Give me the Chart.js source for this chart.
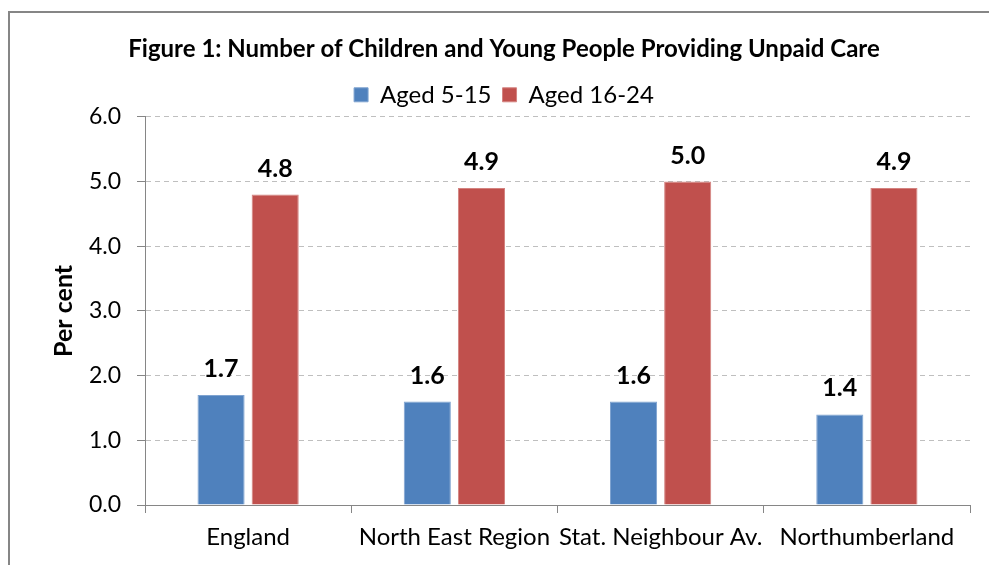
<!DOCTYPE html>
<html>
<head>
<meta charset="utf-8">
<script src="https://cdn.jsdelivr.net/npm/chart.js@4.4.1/dist/chart.umd.min.js"></script>
<style>
  html, body { margin: 0; padding: 0; background: #ffffff; }
  #wrap { width: 989px; height: 565px; position: relative; }
</style>
</head>
<body>
<div id="wrap"><canvas id="c" width="989" height="565"></canvas></div>
<script>
const categories = ['England', 'North East Region', 'Stat. Neighbour Av.', 'Northumberland'];
const aged5to15 = [1.7, 1.6, 1.6, 1.4];
const aged16to24 = [4.8, 4.9, 5.0, 4.9];
const seriesNames = ['Aged 5-15', 'Aged 16-24'];
const titleText = 'Figure 1: Number of Children and Young People Providing Unpaid Care';
const yAxisTitle = 'Per cent';

const FONT = 'Lato, "Open Sans", sans-serif';

const framePlugin = {
  id: 'frame',
  beforeDraw(chart) {
    const ctx = chart.ctx;
    ctx.save();
    ctx.fillStyle = '#ffffff';
    ctx.fillRect(0, 0, chart.width, chart.height);
    ctx.strokeStyle = '#868686';
    ctx.lineWidth = 2;
    ctx.strokeRect(9, 12, chart.width + 20, chart.height + 20);
    ctx.restore();
  }
};

const labelPlugin = {
  id: 'valueLabels',
  afterDatasetsDraw(chart) {
    const ctx = chart.ctx;
    ctx.save();
    ctx.font = 'bold 25px ' + FONT;
    ctx.fillStyle = '#000000';
    ctx.textAlign = 'center';
    ctx.textBaseline = 'middle';
    chart.data.datasets.forEach((ds, i) => {
      const meta = chart.getDatasetMeta(i);
      meta.data.forEach((bar, j) => {
        ctx.fillText(ds.data[j].toFixed(1), bar.x, bar.y - 26);
      });
    });
    ctx.restore();
  }
};

new Chart(document.getElementById('c'), {
  type: 'bar',
  data: {
    labels: categories,
    datasets: [
      { label: seriesNames[0], data: aged5to15, backgroundColor: '#4F81BD', borderColor: '#7FA3D0', borderWidth: 1,
        categoryPercentage: 0.525, barPercentage: 0.87 },
      { label: seriesNames[1], data: aged16to24, backgroundColor: '#C0504D', borderColor: '#D48380', borderWidth: 1,
        categoryPercentage: 0.525, barPercentage: 0.87 }
    ]
  },
  options: {
    responsive: false,
    animation: false,
    devicePixelRatio: 1,
    layout: { padding: { left: 38, right: 19, top: 0, bottom: 0 } },
    plugins: {
      title: {
        display: true,
        text: titleText,
        color: '#000000',
        font: { family: FONT, size: 24, weight: 'bold' },
        padding: { top: 35, bottom: 8 }
      },
      legend: {
        display: true,
        position: 'top',
        labels: {
          color: '#000000',
          font: { family: FONT, size: 24 },
          boxWidth: 14,
          boxHeight: 14,
          padding: 11
        }
      },
      tooltip: { enabled: false }
    },
    scales: {
      x: {
        offset: true,
        grid: { display: true, drawOnChartArea: false, drawTicks: true, tickLength: 8, color: '#868686', offset: true },
        border: { display: true, color: '#868686', width: 1 },
        ticks: { color: '#000000', font: { family: FONT, size: 24 }, padding: 10, maxRotation: 0, autoSkip: false },
        afterFit(scale) { scale.height = 60; }
      },
      y: {
        min: 0,
        max: 6,
        ticks: { stepSize: 1, color: '#000000', font: { family: FONT, size: 23 }, padding: 16,
                 callback: (v) => Number(v).toFixed(1) },
        grid: { display: true, drawOnChartArea: true, drawTicks: true, tickLength: 8, color: '#BFBFBF', tickColor: '#868686' },
        border: { display: true, color: '#868686', width: 1, dash: [5, 4] },
        title: { display: true, text: yAxisTitle, color: '#000000', font: { family: FONT, size: 25, weight: 'bold' },
                 padding: { top: 11, bottom: 0 } },
        afterFit(scale) { scale.width = 107; }
      }
    }
  },
  plugins: [framePlugin, labelPlugin]
});
</script>
</body>
</html>
